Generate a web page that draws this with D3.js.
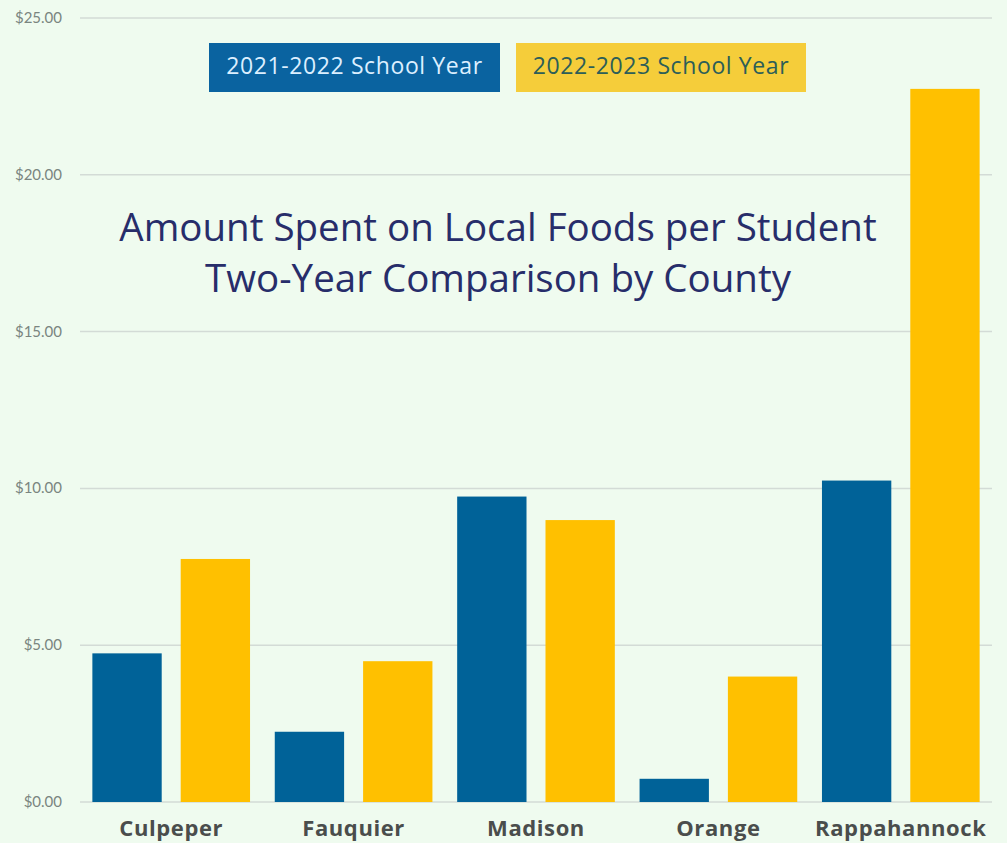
<!DOCTYPE html>
<html>
<head>
<meta charset="utf-8">
<script src="https://cdnjs.cloudflare.com/ajax/libs/d3/7.8.5/d3.min.js"></script>
<style>
  body { margin: 0; background: #effbef; }
  svg { display: block; }
</style>
</head>
<body>
<svg width="1007" height="843"></svg>
<script>
var counties = ["Culpeper", "Fauquier", "Madison", "Orange", "Rappahannock"];
var years = ["2021-2022 School Year", "2022-2023 School Year"];
var values2122 = [4.74, 2.24, 9.74, 0.74, 10.25];
var values2223 = [7.75, 4.49, 8.99, 4.0, 22.74];
var yTicks = [0, 5, 10, 15, 20, 25];
var titleLines = ["Amount Spent on Local Foods per Student", "Two-Year Comparison by County"];

var colors = ["#006298", "#ffc000"];

var svg = d3.select("svg"),
    width = +svg.attr("width"),
    height = +svg.attr("height");

svg.append("rect").attr("width", width).attr("height", height).attr("fill", "#effbef");

var data = counties.map(function(c, i) {
  return { county: c, vals: [values2122[i], values2223[i]] };
});

var x0 = d3.scaleBand()
    .domain(counties)
    .range([80, 992])
    .padding(0);

var x1 = d3.scaleBand()
    .domain(d3.range(years.length))
    .range([0, x0.bandwidth()])
    .paddingInner(0.215)
    .paddingOuter(0.14);

var y = d3.scaleLinear()
    .domain([0, 25])
    .range([802, 18]);

// gridlines
svg.append("g")
  .selectAll("line")
  .data(yTicks)
  .enter().append("line")
    .attr("x1", 80)
    .attr("x2", 992)
    .attr("y1", function(d) { return y(d); })
    .attr("y2", function(d) { return y(d); })
    .attr("stroke", "#d3dbd6")
    .attr("stroke-width", 1.5);

// y labels
svg.append("g")
  .selectAll("text")
  .data(yTicks)
  .enter().append("text")
    .attr("x", 62)
    .attr("y", function(d) { return y(d) + 5; })
    .attr("text-anchor", "end")
    .attr("font-family", "Lato, sans-serif")
    .attr("font-size", 15)
    .attr("fill", "#7a8580")
    .text(function(d) { return "$" + d3.format(".2f")(d); });

// bars
var group = svg.append("g")
  .selectAll("g")
  .data(data)
  .enter().append("g")
    .attr("transform", function(d) { return "translate(" + x0(d.county) + ",0)"; });

group.selectAll("rect")
  .data(function(d) { return d.vals; })
  .enter().append("rect")
    .attr("x", function(d, i) { return x1(i); })
    .attr("width", x1.bandwidth())
    .attr("y", function(d) { return y(d); })
    .attr("height", function(d) { return y(0) - y(d); })
    .attr("fill", function(d, i) { return colors[i]; });

// x labels
svg.append("g")
  .selectAll("text")
  .data(counties)
  .enter().append("text")
    .attr("x", function(d) { return x0(d) + x0.bandwidth() / 2; })
    .attr("y", 836)
    .attr("text-anchor", "middle")
    .attr("font-family", "'Open Sans', sans-serif")
    .attr("font-weight", "bold")
    .attr("font-size", 22)
    .attr("letter-spacing", 0.6)
    .attr("fill", "#4a4d4c")
    .text(function(d) { return d; });

// title
svg.append("g")
  .selectAll("text")
  .data(titleLines)
  .enter().append("text")
    .attr("x", 498)
    .attr("y", function(d, i) { return 241 + i * 51; })
    .attr("text-anchor", "middle")
    .attr("font-family", "'Open Sans', sans-serif")
    .attr("font-size", 38.5)
    .attr("fill", "#272d6a")
    .text(function(d) { return d; });

// legend
var legendBoxes = [
  { x: 209, w: 291, fill: "#0a63a0", text: "#dcefff" },
  { x: 516, w: 290, fill: "#f5cd3a", text: "#2c5e58" }
];
var legend = svg.append("g")
  .selectAll("g")
  .data(years)
  .enter().append("g");

legend.append("rect")
    .attr("x", function(d, i) { return legendBoxes[i].x; })
    .attr("y", 43)
    .attr("width", function(d, i) { return legendBoxes[i].w; })
    .attr("height", 49)
    .attr("fill", function(d, i) { return legendBoxes[i].fill; });

legend.append("text")
    .attr("x", function(d, i) { return legendBoxes[i].x + legendBoxes[i].w / 2; })
    .attr("y", 74)
    .attr("text-anchor", "middle")
    .attr("font-family", "'Open Sans', sans-serif")
    .attr("font-size", 23)
    .attr("letter-spacing", 0.6)
    .attr("fill", function(d, i) { return legendBoxes[i].text; })
    .text(function(d) { return d; })
</script>
</body>
</html>
